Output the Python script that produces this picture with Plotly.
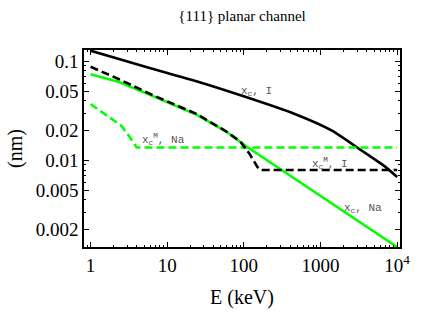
import numpy as np
import plotly.graph_objects as go

# ---- data ----
E_xc_I = [1, 5.6, 24, 104, 445, 1430, 3430, 7100, 10000]
xc_I = [0.128, 0.0867, 0.063, 0.0439, 0.0298, 0.0199, 0.0126, 0.00857, 0.0068]

E_xcM_I = [1, 2.35, 6.5, 24, 58, 90, 120, 150, 165, 10000]
xcM_I = [0.088, 0.066, 0.0455, 0.0295, 0.0198, 0.0155, 0.0115, 0.0086, 0.0080, 0.0080]

E_xc_Na = [1, 2.35, 6.5, 24, 58, 113, 10000]
xc_Na = [0.074, 0.0617, 0.0445, 0.029, 0.0197, 0.0135, 0.00134]

E_xcM_Na = [1, 1.35, 1.8, 2.5, 3.2, 4.0, 10000]
xcM_Na = [0.0370, 0.0315, 0.0270, 0.0225, 0.0175, 0.0135, 0.0135]

x_tickvals = [1, 10, 100, 1000, 10000]
x_ticktext = ["1", "10", "100", "1000", "10<sup>4</sup>"]
y_tickvals = [0.1, 0.05, 0.02, 0.01, 0.005, 0.002]
y_ticktext = ["0.1", "0.05", "0.02", "0.01", "0.005", "0.002"]

label_text = ["x<sub>c</sub>, I", "x<sub>c</sub><sup>M</sup>, Na",
              "x<sub>c</sub><sup>M</sup>, I", "x<sub>c</sub>, Na"]
label_E = [147, 8.98, 1312, 3532]
label_val = [0.0492, 0.0162, 0.00938, 0.0033]

BLACK = "#000000"
GREEN = "#00ff00"
LW = 2.6
DASH = "8px,4px"

fig = go.Figure()
fig.add_trace(go.Scatter(x=E_xc_I, y=xc_I, mode="lines",
                         line=dict(color=BLACK, width=LW, shape="spline", smoothing=0.6)))
fig.add_trace(go.Scatter(x=E_xc_Na, y=xc_Na, mode="lines",
                         line=dict(color=GREEN, width=LW)))
fig.add_trace(go.Scatter(x=E_xcM_Na, y=xcM_Na, mode="lines",
                         line=dict(color=GREEN, width=LW, dash=DASH)))
fig.add_trace(go.Scatter(x=E_xcM_I, y=xcM_I, mode="lines",
                         line=dict(color=BLACK, width=LW, dash=DASH)))

for t, xe, yv in zip(label_text, label_E, label_val):
    fig.add_annotation(x=np.log10(xe), y=np.log10(yv), text=t, showarrow=False,
                       font=dict(family="Liberation Mono", size=11, color="#555555"))

x_minor = [m * 10 ** d for d in range(-1, 5) for m in range(2, 10)]
y_minor = [m * 10 ** d for d in range(-4, 0) for m in range(2, 10)]

W, H = 421, 316
serif = "Liberation Serif, Times New Roman, Times, serif"
fig.update_layout(
    width=W, height=H,
    margin=dict(l=84, r=11, t=50, b=64),
    paper_bgcolor="white", plot_bgcolor="white",
    showlegend=False,
    title=dict(text="{111} planar channel", x=0.5, xref="paper",
               y=1 - 16 / H, yref="container", yanchor="middle",
               font=dict(family=serif, size=15, color="black")),
    font=dict(family=serif, color="black"),
)
fig.update_xaxes(type="log", range=[np.log10(0.82), np.log10(10900)],
                 showgrid=False, zeroline=False,
                 showline=True, linecolor="black", linewidth=1.5, mirror="ticks",
                 ticks="inside", ticklen=5, tickwidth=1.2, tickcolor="black",
                 tickvals=x_tickvals, ticktext=x_ticktext,
                 tickfont=dict(family=serif, size=19, color="black"),
                 minor=dict(tickvals=x_minor, ticks="inside", ticklen=2.5, tickwidth=0.8, tickcolor="black"),
                 title=dict(text="E (keV)", font=dict(family=serif, size=20, color="black"), standoff=15))
fig.update_yaxes(type="log", range=[np.log10(0.00134), np.log10(0.130)],
                 showgrid=False, zeroline=False,
                 showline=True, linecolor="black", linewidth=1.5, mirror="ticks",
                 ticks="inside", ticklen=5, tickwidth=1.2, tickcolor="black",
                 tickvals=y_tickvals, ticktext=y_ticktext,
                 tickfont=dict(family=serif, size=19, color="black"),
                 minor=dict(tickvals=y_minor, ticks="inside", ticklen=2.5, tickwidth=0.8, tickcolor="black"),
                 title=dict(text="(nm)", font=dict(family=serif, size=20, color="black"), standoff=8))

fig.write_html("out.html",
               config={"displayModeBar": False},
               post_script="document.body.style.margin='0';document.body.style.overflow='hidden';")
